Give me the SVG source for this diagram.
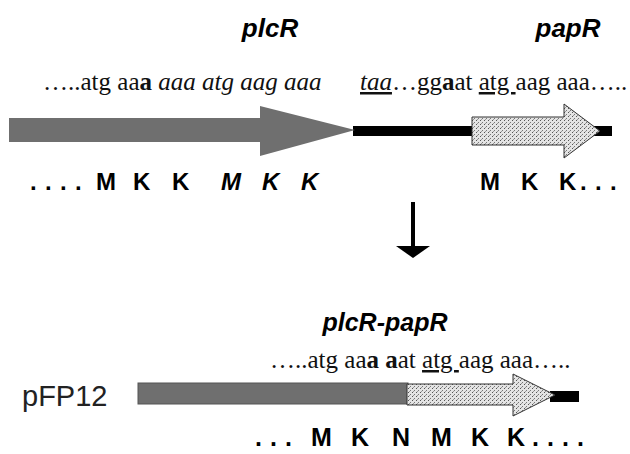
<svg xmlns="http://www.w3.org/2000/svg" width="630" height="454" viewBox="0 0 630 454">
<defs>
<pattern id="stip" width="4" height="4" patternUnits="userSpaceOnUse">
<rect width="4" height="4" fill="#e4e4e4"/>
<rect x="0" y="0" width="1" height="1" fill="#555"/>
<rect x="2" y="2" width="1" height="1" fill="#777"/>
<rect x="1" y="3" width="1" height="1" fill="#999"/>
</pattern>
</defs>
<style>
.gene{font-family:"Liberation Sans",Arial,sans-serif;font-weight:bold;font-style:italic;font-size:26px;fill:#000;text-anchor:middle}
.seq{font-family:"Liberation Serif","Times New Roman",serif;font-size:25px;fill:#111}
.aa{font-family:"Liberation Sans",Arial,sans-serif;font-weight:bold;font-size:24px;fill:#000}
.b{font-weight:bold}
.i{font-style:italic}
.u{text-decoration:underline}
.gray{fill:#6f6f6f}
.dot{fill:url(#stip);stroke:#333;stroke-width:1}
.blk{fill:#000}
</style>
<g id="labels-top">
<text class="gene" x="270" y="37">plcR</text>
<text class="gene" x="568" y="37">papR</text>
</g>
<g id="seq-top">
<text class="seq" y="90"><tspan x="43">…..atg aa</tspan><tspan class="b">a</tspan> <tspan class="i">aaa atg aag aaa</tspan><tspan class="i u" x="360">taa</tspan>…gg<tspan class="b">a</tspan>at <tspan class="u">atg </tspan>aag aaa…..</text>
</g>
<g id="plcR-gene">
<rect class="blk" x="353" y="126" width="259" height="10"/>
<polygon class="gray" points="9,118 260,118 260,106 355,130 260,156 260,142 9,142"/>
</g>
<g id="papR-gene">
<polygon class="dot" points="472,117 564,117 564,104 600,131 564,158 564,145 472,145"/>
</g>
<g id="protein-top">
<text class="aa" y="190"><tspan x="30 45 60 75">....</tspan><tspan x="96">M</tspan><tspan x="133">K</tspan><tspan x="172">K</tspan><tspan class="i" x="221">M</tspan><tspan class="i" x="262">K</tspan><tspan class="i" x="301">K</tspan></text>
<text class="aa" y="190"><tspan x="480">M</tspan><tspan x="521">K</tspan><tspan x="559">K</tspan><tspan x="580 595 610">...</tspan></text>
</g>
<g id="connectors">
<rect class="blk" x="411" y="202" width="4" height="46"/>
<polygon class="blk" points="396,246 430,246 413,258"/>
</g>
<g id="labels-bottom">
<text class="gene" x="385" y="331" style="font-size:25px">plcR-papR</text>
<text class="seq" x="270" y="368">…..atg aa<tspan class="b">a</tspan> <tspan class="b">a</tspan>at <tspan class="u">atg </tspan>aag aaa…..</text>
<text x="22" y="406" style="font-family:'Liberation Sans',Arial,sans-serif;font-size:29px;fill:#222">pFP12</text>
</g>
<g id="pFP12-construct">
<rect class="blk" x="550" y="391" width="29" height="11"/>
<rect class="gray" x="138" y="383" width="270" height="21" stroke="#555" stroke-width="1"/>
<polygon class="dot" points="407,384 513,384 513,374 555,395 513,416 513,405 407,405"/>
</g>
<g id="protein-bottom">
<text class="aa" y="446" style="font-size:25px"><tspan x="255 270 285">...</tspan><tspan x="311">M</tspan><tspan x="351">K</tspan><tspan x="392">N</tspan><tspan x="431">M</tspan><tspan x="471">K</tspan><tspan x="507">K</tspan><tspan x="532 547 562 577">....</tspan></text>
</g>
</svg>
